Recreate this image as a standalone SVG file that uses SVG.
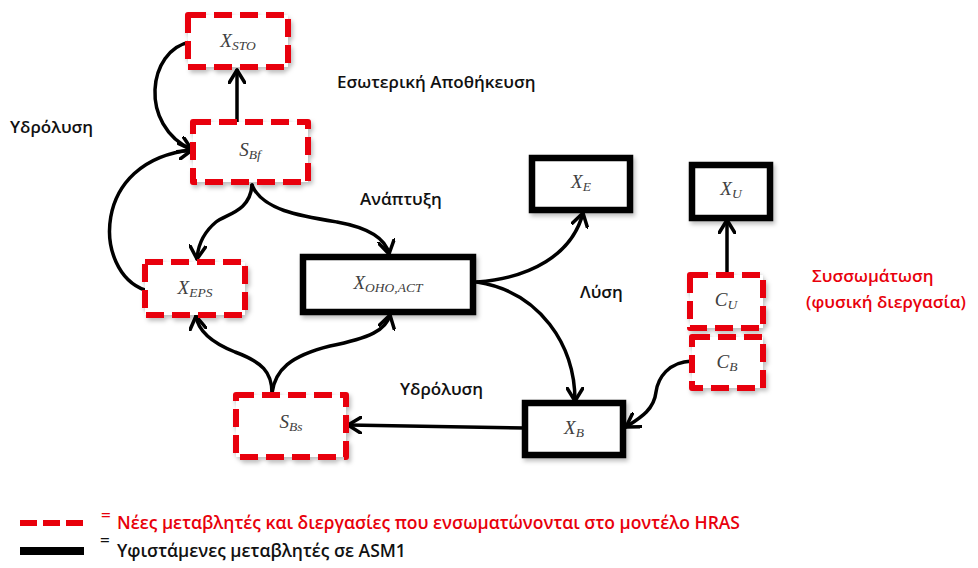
<svg xmlns="http://www.w3.org/2000/svg" width="978" height="568" viewBox="0 0 978 568">
  <defs>
    <filter id="shadow" x="-20%" y="-20%" width="150%" height="150%">
      <feDropShadow dx="2" dy="3" stdDeviation="2" flood-color="#000" flood-opacity="0.25"/>
    </filter>
    <marker id="arrow" viewBox="0 0 16 18" refX="14" refY="9" markerWidth="16" markerHeight="18" markerUnits="userSpaceOnUse" orient="auto">
      <path d="M1,1 L14,9 L1,17" fill="none" stroke="#000" stroke-width="3.5" stroke-linecap="round" stroke-linejoin="round"/>
    </marker>
    <style>
      .newbox { fill: #fff; stroke: #e8000b; stroke-width: 6; stroke-dasharray: 18 8; stroke-linejoin: round; filter: url(#shadow); }
      .oldbox { fill: #fff; stroke: #000; stroke-width: 6.5; filter: url(#shadow); }
      .var { font-family: "Liberation Serif", "DejaVu Serif", serif; font-style: italic; font-size: 19px; fill: #404040; text-anchor: middle; }
      .sub { font-size: 13.5px; }
      .edge { fill: none; stroke: #000; stroke-width: 3.5; stroke-linecap: round; marker-end: url(#arrow); }
      .label { font-family: "Open Sans", "Liberation Sans", sans-serif; font-weight: 600; font-size: 17px; fill: #111; }
      .legend { font-size: 17.5px; }
      .red { fill: #e8000b; }
    </style>
  </defs>

  <rect width="978" height="568" fill="#fff"/>

  <!-- connectors -->
  <g id="connectors">
    <path class="edge" d="M237,122 L237,70"/>
    <path class="edge" d="M190,42 C148,50 138,125 192,150"/>
    <path class="edge" d="M145,290 C93,272 90,160 192,150"/>
    <path class="edge" d="M252,185 C250,212 226,214 216,222 C204,232 198,244 197,259"/>
    <path class="edge" d="M252,185 C262,210 300,216 337,222 C370,228 386,240 389,254"/>
    <path class="edge" d="M272,393 C272,372 262,362 235,352 C210,342 198,330 196,316"/>
    <path class="edge" d="M272,393 C275,370 290,356 330,346 C370,338 386,330 390,315"/>
    <path class="edge" d="M477,282 C530,278 572,255 583,213"/>
    <path class="edge" d="M477,282 C540,292 575,345 575,401"/>
    <path class="edge" d="M525,428 L348,425"/>
    <path class="edge" d="M727,275 L727,220"/>
    <path class="edge" d="M692,361 C668,362 658,378 656,392 C654,410 640,418 626,427"/>
  </g>

  <!-- nodes -->
  <g id="x-sto">
    <rect class="newbox" x="188" y="15" width="100" height="52"/>
    <text class="var" x="238" y="47">X<tspan class="sub" dy="3">STO</tspan></text>
  </g>
  <g id="s-bf">
    <rect class="newbox" x="193" y="122" width="115" height="60"/>
    <text class="var" x="250" y="156">S<tspan class="sub" dy="3">Bf</tspan></text>
  </g>
  <g id="x-eps">
    <rect class="newbox" x="145" y="262" width="100" height="53"/>
    <text class="var" x="195" y="294">X<tspan class="sub" dy="3">EPS</tspan></text>
  </g>
  <g id="x-oho-act">
    <rect class="oldbox" x="303" y="257" width="170" height="55"/>
    <text class="var" x="388" y="289">X<tspan class="sub" dy="3">OHO,ACT</tspan></text>
  </g>
  <g id="s-bs">
    <rect class="newbox" x="236" y="395" width="110" height="62"/>
    <text class="var" x="291" y="428">S<tspan class="sub" dy="3">Bs</tspan></text>
  </g>
  <g id="x-e">
    <rect class="oldbox" x="532" y="158" width="98" height="52"/>
    <text class="var" x="581" y="188">X<tspan class="sub" dy="3">E</tspan></text>
  </g>
  <g id="x-u">
    <rect class="oldbox" x="692" y="165" width="78" height="53"/>
    <text class="var" x="731" y="195">X<tspan class="sub" dy="3">U</tspan></text>
  </g>
  <g id="c-u">
    <rect class="newbox" x="690" y="275" width="73" height="53"/>
    <text class="var" x="726" y="306">C<tspan class="sub" dy="3">U</tspan></text>
  </g>
  <g id="c-b">
    <rect class="newbox" x="692" y="337" width="71" height="51"/>
    <text class="var" x="727" y="368">C<tspan class="sub" dy="3">B</tspan></text>
  </g>
  <g id="x-b">
    <rect class="oldbox" x="525" y="403" width="98" height="52"/>
    <text class="var" x="574" y="434">X<tspan class="sub" dy="3">B</tspan></text>
  </g>

  <!-- process labels -->
  <g id="labels">
    <text class="label" x="10" y="133">Υδρόλυση</text>
    <text class="label" x="337" y="88">Εσωτερική Αποθήκευση</text>
    <text class="label" x="360" y="205">Ανάπτυξη</text>
    <text class="label" x="580" y="298">Λύση</text>
    <text class="label" x="400" y="395">Υδρόλυση</text>
    <text class="label red" x="812" y="282">Συσσωμάτωση</text>
    <text class="label red" x="806" y="308">(φυσική διεργασία)</text>
  </g>

  <!-- legend -->
  <g id="legend">
    <line x1="20" y1="523" x2="83" y2="523" stroke="#e8000b" stroke-width="6" stroke-dasharray="17 6"/>
    <text class="label red" x="101" y="521" font-size="13">=</text>
    <text class="label legend red" x="117" y="529">Νέες μεταβλητές και διεργασίες που ενσωματώνονται στο μοντέλο HRAS</text>
    <rect x="20" y="547" width="64" height="8" fill="#000"/>
    <text class="label" x="100" y="546" font-size="13">=</text>
    <text class="label legend" x="117" y="557">Υφιστάμενες μεταβλητές σε ASM1</text>
  </g>
</svg>
